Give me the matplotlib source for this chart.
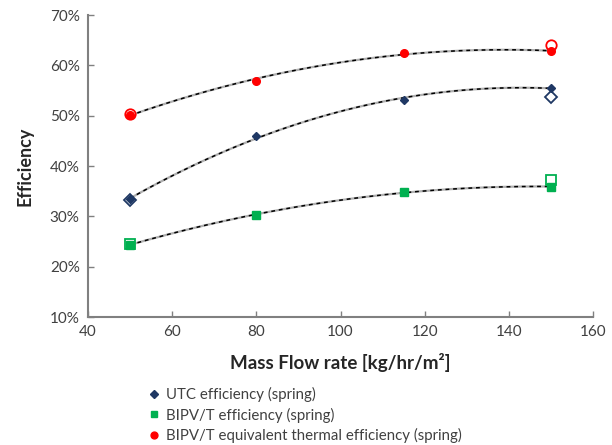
import matplotlib
matplotlib.use("Agg")
import matplotlib.pyplot as plt
import numpy as np
from matplotlib.ticker import FuncFormatter

plt.rcParams['font.family'] = ['Lato', 'DejaVu Sans']

# filled points (spring)
flow = [50, 80, 115, 150]
utc_eff = [33.4, 46.0, 53.1, 55.6]
bipvt_eff = [24.4, 30.3, 34.8, 35.9]
thermal_eff = [50.2, 57.0, 62.5, 62.8]

# open markers at the ends
flow_open = [50, 150]
utc_open = [33.2, 53.8]
bipvt_open = [24.6, 37.2]
thermal_open = [50.4, 64.0]

labels = ["UTC efficiency (spring)",
          "BIPV/T efficiency (spring)",
          "BIPV/T equivalent thermal efficiency (spring)"]

navy = "#1f3864"
green = "#00b050"
red = "#ff0000"
grey = "#808080"
txt = "#404040"

fig = plt.figure(figsize=(6.12, 4.45), dpi=100)
ax = fig.add_axes([0.1438, 0.2876, 0.8252, 0.6785])

xs = np.linspace(50, 150, 200)
for y in (utc_eff, bipvt_eff, thermal_eff):
	c = np.polyfit(flow, y, 2)
	ax.plot(xs, np.polyval(c, xs), color="#b0b0b0", lw=1.6, zorder=2)
	ax.plot(xs, np.polyval(c, xs), color="black", lw=1.1, dashes=(2.5, 2.5), zorder=3)

ax.plot(flow_open, utc_open, "D", mfc="white", mec=navy, mew=1.3, ms=6, ls="none", zorder=4)
ax.plot(flow_open, bipvt_open, "s", mfc="white", mec=green, mew=1.3, ms=7, ls="none", zorder=4)
ax.plot(flow_open, thermal_open, "o", mfc="white", mec=red, mew=1.3, ms=7.5, ls="none", zorder=4)

h1, = ax.plot(flow, utc_eff, "D", color=navy, ms=4, ls="none", zorder=5)
h2, = ax.plot(flow, bipvt_eff, "s", color=green, ms=5.5, ls="none", zorder=5)
h3, = ax.plot(flow, thermal_eff, "o", color=red, ms=5.5, ls="none", zorder=5)

ax.set_xlim(40, 160)
ax.set_ylim(10, 70)
ax.set_xticks(np.arange(40, 161, 20))
ax.set_yticks(np.arange(10, 71, 10))
ax.yaxis.set_major_formatter(FuncFormatter(lambda v, p: f"{v:.0f}%"))

for s in ("top", "right"):
	ax.spines[s].set_visible(False)
for s in ("left", "bottom"):
	ax.spines[s].set_color(grey)
	ax.spines[s].set_linewidth(1.5)
ax.tick_params(direction="in", length=4, width=1, color=grey, labelsize=11, labelcolor=txt, pad=6)

ax.set_xlabel("Mass Flow rate [kg/hr/m²]", fontsize=13.5, fontweight="bold", color="#262626", labelpad=10)
ax.set_ylabel("Efficiency", fontsize=13, fontweight="bold", color="#262626", labelpad=12)

fig.legend([h1, h2, h3], labels, loc="upper left", bbox_to_anchor=(0.245, 0.13),
           frameon=False, fontsize=10.8, labelcolor=txt, handlelength=0.6,
           handletextpad=0.5, labelspacing=0.35, borderaxespad=0, borderpad=0,
           markerscale=0.9)

fig.savefig("out.png", dpi=100)
